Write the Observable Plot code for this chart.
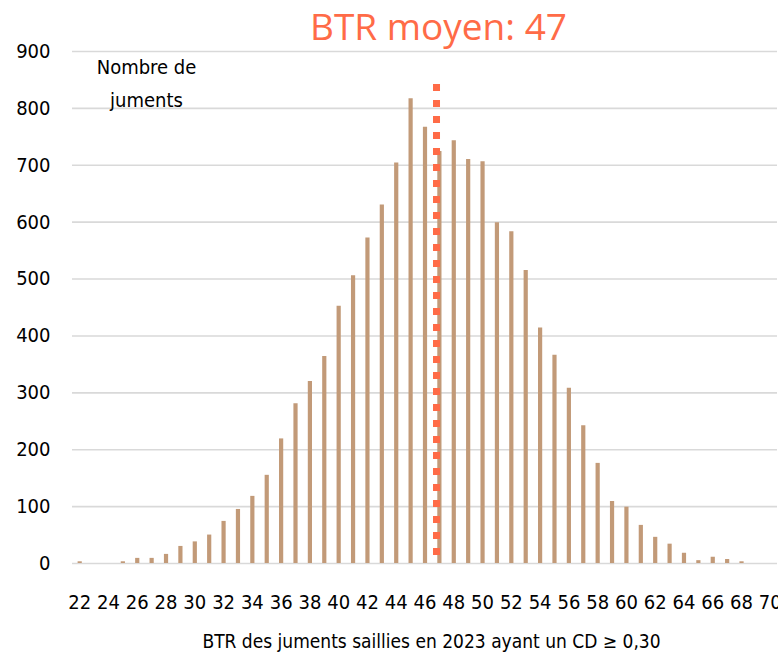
<!DOCTYPE html>
<html>
<head>
<meta charset="utf-8">
<script src="https://cdn.jsdelivr.net/npm/d3@7"></script>
<script src="https://cdn.jsdelivr.net/npm/@observablehq/plot@0.6"></script>
<style>
  html, body { margin: 0; padding: 0; background: #fff; }
  #chart svg { display: block; }
</style>
</head>
<body>
<div id="chart"></div>
<script>
// BTR values (x) and number of mares (y)
const btr = [22,23,24,25,26,27,28,29,30,31,32,33,34,35,36,37,38,39,40,41,42,43,44,45,46,47,48,49,50,51,52,53,54,55,56,57,58,59,60,61,62,63,64,65,66,67,68,69,70];
const counts = [3,0,0,3,9,9,16,30,38,50,74,95,118,155,219,281,320,364,452,506,572,630,704,817,767,724,743,710,706,599,583,515,414,366,308,242,176,109,99,67,46,34,18,5,11,7,3,0,0];
const yTicks = [0,100,200,300,400,500,600,700,800,900];
const xTicks = [22,24,26,28,30,32,34,36,38,40,42,44,46,48,50,52,54,56,58,60,62,64,66,68,70];
const meanBTR = 46.8;
const meanLineTop = 842;
const titleText = "BTR moyen: 47";
const yLabelLine1 = "Nombre de";
const yLabelLine2 = "juments";
const xLabel = "BTR des juments saillies en 2023 ayant un CD \u2265 0,30";

const data = btr.map((b, i) => ({btr: b, count: counts[i]})).filter(d => d.count > 0);

const font = "'Liberation Sans Narrow', 'Arial Narrow', 'DejaVu Sans Condensed', sans-serif";

const chart = Plot.plot({
  width: 778,
  height: 655,
  marginTop: 51,
  marginBottom: 92,
  marginLeft: 72,
  marginRight: 1,
  style: {fontFamily: font, fontSize: "20px", color: "#000", background: "#fff", overflow: "visible"},
  x: {domain: [21.5, 70.5]},
  y: {domain: [0, 900]},
  marks: [
    Plot.ruleY(yTicks, {stroke: "#d9d9d9", strokeWidth: 1.6}),
    Plot.axisY(yTicks, {tickSize: 0, tickPadding: 22, fontSize: 20, label: null}),
    Plot.axisX(xTicks, {tickSize: 0, tickPadding: 31, fontSize: 20, label: null, tickFormat: d => String(d)}),
    Plot.ruleX(data, {x: "btr", y1: 0, y2: "count", stroke: "#c29a78", strokeWidth: 4.2}),
    Plot.ruleX([meanBTR], {y1: meanLineTop, y2: 0, stroke: "#ff6b47", strokeWidth: 7, strokeDasharray: "7,9"}),
    Plot.text([titleText], {frameAnchor: "top-left", dx: 366, dy: -38, text: d => d, fill: "#ff6b47", fontSize: 37, fontFamily: "'Open Sans', Lato, sans-serif", textAnchor: "middle"}),
    Plot.text([yLabelLine1], {frameAnchor: "top-left", dx: 74, dy: 8, text: d => d, fontSize: 20, textAnchor: "middle"}),
    Plot.text([yLabelLine2], {frameAnchor: "top-left", dx: 74, dy: 41, text: d => d, fontSize: 20, textAnchor: "middle"}),
    Plot.text([xLabel], {frameAnchor: "bottom-left", dx: 359, dy: 84, text: d => d, fontSize: 19, textAnchor: "middle"})
  ]
});

document.getElementById("chart").appendChild(chart);
</script>
</body>
</html>
